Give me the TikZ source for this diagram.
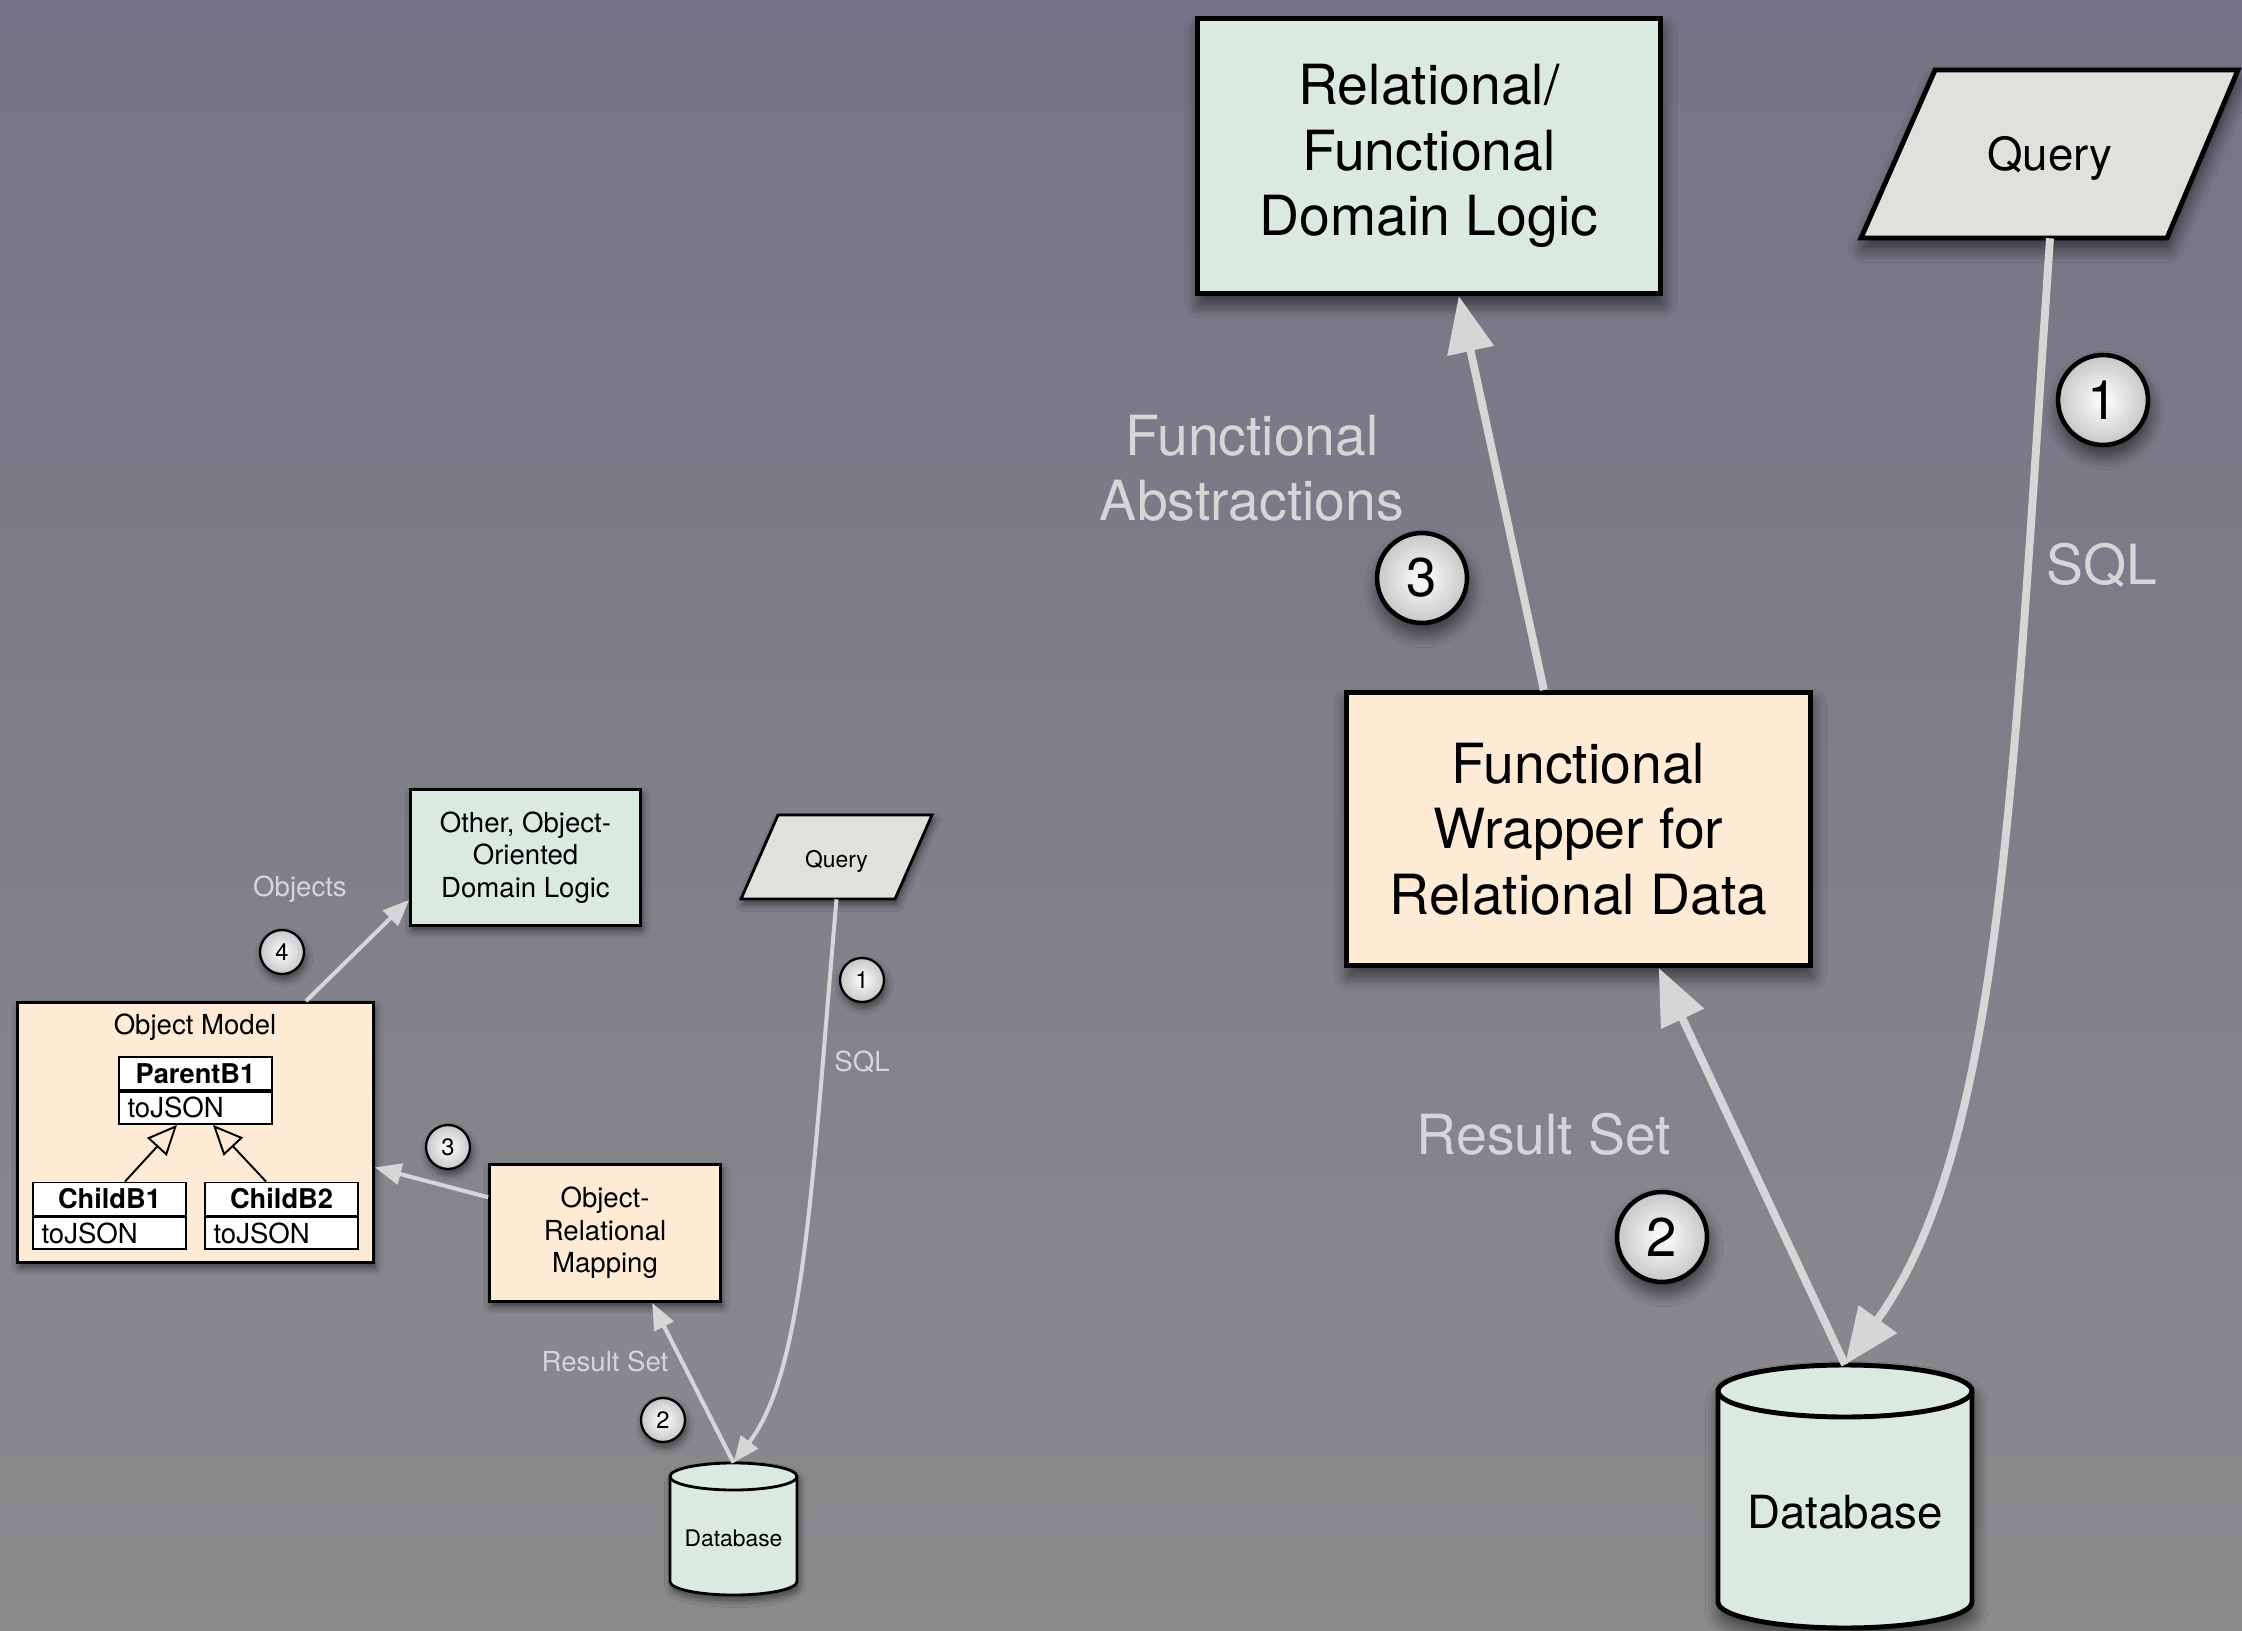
\documentclass[tikz,border=0pt]{standalone}
\usepackage{fontspec}
\setmainfont{TeX Gyre Heros}
\usetikzlibrary{arrows.meta,positioning,shadows.blur}

\definecolor{bgtop}{RGB}{116,116,134}
\definecolor{bgbottom}{RGB}{139,139,141}
\definecolor{logicgreen}{RGB}{219,234,224}
\definecolor{wrappeach}{RGB}{253,235,214}
\definecolor{querygray}{RGB}{226,224,220}
\definecolor{flowgray}{RGB}{214,214,214}

\begin{document}
\begin{tikzpicture}[
        x=0.02cm, y=-0.02cm,
        bigshadow/.style={
            blur shadow={shadow xshift=1pt, shadow yshift=-6pt,
                shadow blur radius=8pt, shadow blur steps=12, shadow opacity=60}
        },
        smallshadow/.style={
            blur shadow={shadow xshift=1pt, shadow yshift=-3pt,
                shadow blur radius=4pt, shadow blur steps=8, shadow opacity=55}
        },
        bigbox/.style={
            rectangle, draw=black, line width=2.8pt, align=center,
            font=\fontsize{31.5}{37.4}\selectfont, bigshadow
        },
        smallbox/.style={
            rectangle, draw=black, line width=1.6pt, align=center,
            font=\fontsize{15.7}{18.6}\selectfont, smallshadow
        },
        classname/.style={
            rectangle, draw=black, fill=white, line width=1.1pt,
            minimum width=3.06cm, minimum height=0.66cm, inner sep=0pt,
            font=\bfseries\fontsize{15.5}{18}\selectfont
        },
        classop/.style={
            rectangle, draw=black, fill=white, line width=1.1pt,
            text width=2.72cm, inner xsep=5pt, inner ysep=0pt,
            minimum height=0.64cm, align=left,
            font=\fontsize{15.7}{18}\selectfont
        },
        inherit/.style={
            draw=black, line width=1.1pt,
            -{Triangle[open, length=17pt, width=15pt]}
        },
        bigflow/.style={
            draw=flowgray, line width=4.5pt,
            -{Triangle[length=32pt, width=26pt]}
        },
        smallflow/.style={
            draw=flowgray, line width=2.3pt,
            -{Triangle[length=15pt, width=12pt]}
        },
        biglabel/.style={
            text=flowgray, align=center, font=\fontsize{31.5}{36.8}\selectfont
        },
        smalllabel/.style={
            text=flowgray, align=center, font=\fontsize{15.7}{18.6}\selectfont
        },
        bigball/.style={
            circle, draw=black, line width=2.6pt, inner sep=0pt,
            inner color=white, outer color=black!22, minimum size=1.8cm,
            font=\fontsize{31}{37}\selectfont, bigshadow
        },
        smallball/.style={
            circle, draw=black, line width=1.3pt, inner sep=0pt,
            inner color=white, outer color=black!22, minimum size=0.88cm,
            font=\fontsize{13.5}{15}\selectfont, smallshadow
        }
    ]

    % (0,0) at top left corner, one unit = one pixel of the slide
    \useasboundingbox (0,0) rectangle (2242,1631);
    \shade[top color=bgtop, bottom color=bgbottom] (0,0) rectangle (2242,1631);

    % --- object-oriented version (left, small) ---
    \node[smallbox, fill=logicgreen, minimum width=4.6cm, minimum height=2.72cm]
        (oologic) at (525.5,857.5) {Other, Object-\\Oriented\\Domain Logic};
    \node[smallbox, fill=wrappeach, minimum width=7.12cm, minimum height=5.2cm]
        (objmodel) at (195.5,1132.5) {};
    \node[font=\fontsize{15.7}{18}\selectfont] (objtitle) at (195,1027) {Object Model};

    \node[classname] (parentname) at (195.5,1073.5) {ParentB1};
    \node[classop, below=0pt of parentname] (parentop) {toJSON};
    \node[classname] (childaname) at (109.5,1199) {ChildB1};
    \node[classop, below=0pt of childaname] (childaop) {toJSON};
    \node[classname] (childbname) at (281.5,1199) {ChildB2};
    \node[classop, below=0pt of childbname] (childbop) {toJSON};

    \draw[inherit] ([xshift=0.31cm]childaname.north) -- ([xshift=-0.37cm]parentop.south);
    \draw[inherit] ([xshift=-0.31cm]childbname.north) -- ([xshift=0.35cm]parentop.south);

    \node[smallbox, fill=wrappeach, minimum width=4.62cm, minimum height=2.74cm]
        (ormap) at (605,1233) {Object-\\Relational\\Mapping};

    % small query
    \filldraw[fill=querygray, draw=black, line width=1.6pt, line join=miter, smallshadow]
        (778,815) -- (932,815) -- (895,899) -- (741,899) -- cycle;
    \node[font=\fontsize{13}{15}\selectfont, minimum width=3.82cm, minimum height=1.52cm]
        (smallquery) at (836.5,861) {Query};

    % small database
    \filldraw[fill=logicgreen, draw=black, line width=1.6pt, smallshadow]
        (670,1476.5) -- (670,1581.5)
        arc[start angle=180, end angle=360, x radius=1.27cm, y radius=0.27cm]
        -- (797,1476.5)
        arc[start angle=0, end angle=180, x radius=1.27cm, y radius=0.27cm] -- cycle;
    \draw[line width=1.6pt]
        (670,1476.5) arc[start angle=180, end angle=360, x radius=1.27cm, y radius=0.27cm];
    \node[font=\fontsize{13}{15}\selectfont, minimum width=2.54cm, minimum height=3cm]
        (smalldb) at (733.5,1538) {Database};

    \draw[smallflow] (smallquery.south) .. controls (812,1180) and (805,1370) .. (smalldb.north);
    \draw[smallflow] (smalldb.north) -- (ormap.-56);
    \draw[smallflow] (ormap.163) -- (objmodel.-11);
    \draw[smallflow] ([xshift=2.21cm]objmodel.north) -- (oologic.200);

    \node[smalllabel] (objectslbl) at (300,889) {Objects};
    \node[smalllabel] (smallrslbl) at (605,1361) {Result Set};
    \node[smalllabel] (smallsqllbl) at (862,1062) {SQL};

    \foreach \num/\x/\y in {1/862/980, 2/663/1420, 3/448/1147, 4/282/952} {
        \node[smallball] (smallstep\num) at (\x,\y) {\num};
    }

    % --- functional version (right, large) ---
    \node[bigbox, fill=logicgreen, minimum width=9.26cm, minimum height=5.5cm]
        (fnlogic) at (1429,156) {Relational/\\Functional\\Domain Logic};
    \node[bigbox, fill=wrappeach, minimum width=9.28cm, minimum height=5.46cm]
        (fnwrapper) at (1578.5,829) {Functional\\Wrapper for\\Relational Data};

    % big query
    \filldraw[fill=querygray, draw=black, line width=2.8pt, line join=miter, bigshadow]
        (1935,70) -- (2238,70) -- (2167,238) -- (1861,238) -- cycle;
    \node[font=\fontsize{26}{31}\selectfont, minimum width=6.1cm, minimum height=3.2cm]
        (bigquery) at (2050,158) {Query};

    % big database
    \filldraw[fill=logicgreen, draw=black, line width=2.8pt, bigshadow]
        (1718,1391) -- (1718,1602)
        arc[start angle=180, end angle=360, x radius=2.54cm, y radius=0.52cm]
        -- (1972,1391)
        arc[start angle=0, end angle=180, x radius=2.54cm, y radius=0.52cm] -- cycle;
    \draw[line width=2.8pt]
        (1718,1391) arc[start angle=180, end angle=360, x radius=2.54cm, y radius=0.52cm];
    \node[font=\fontsize{26}{31}\selectfont, minimum width=5.08cm, minimum height=5.88cm]
        (bigdb) at (1845,1512) {Database};

    \draw[bigflow] (bigquery.south) .. controls (2012,800) and (2000,1150) .. (bigdb.north);
    \draw[bigflow] (bigdb.north) -- (fnwrapper.-60);
    \draw[bigflow] (fnwrapper.104) -- (fnlogic.-78);

    \node[biglabel] (abstrlbl) at (1252,468) {Functional\\Abstractions};
    \node[biglabel] (bigsqllbl) at (2102,565) {SQL};
    \node[biglabel] (bigrslbl) at (1544,1134) {Result Set};

    \foreach \num/\x/\y in {1/2103/400, 2/1662/1237, 3/1422/578} {
        \node[bigball] (bigstep\num) at (\x,\y) {\num};
    }

\end{tikzpicture}
\end{document}
